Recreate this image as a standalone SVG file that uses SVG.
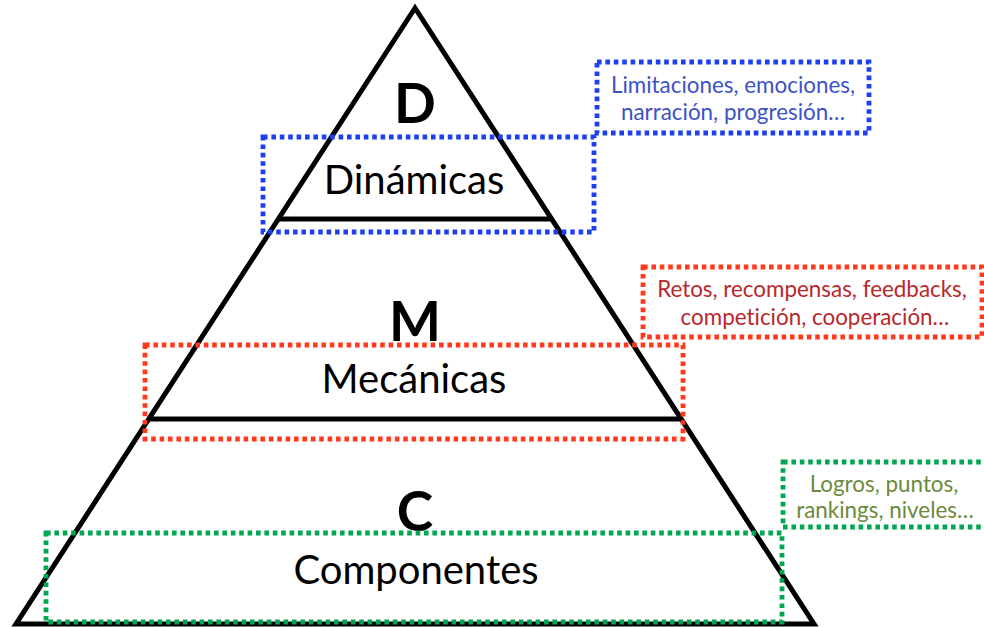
<svg xmlns="http://www.w3.org/2000/svg" width="984" height="627" viewBox="0 0 984 627">
  <style>
    text { font-variant-ligatures: none; }
    .edge { fill: none; stroke: #000; stroke-width: 5; stroke-linejoin: miter; }
    .sep { stroke: #000; stroke-width: 5; }
    .dot { fill: none; stroke-width: 4.8; stroke-dasharray: 4.6 3.8; }
    .blue { stroke: #1d40ee; }
    .red { stroke: #ff3a1c; }
    .green { stroke: #00a651; }
    .big { font-family: Lato, "Liberation Sans", sans-serif; font-weight: bold; font-size: 55px; fill: #000; text-anchor: middle; }
    .lbl { font-family: Lato, "Liberation Sans", sans-serif; font-size: 40px; fill: #000; text-anchor: middle; }
    .note { font-family: Lato, "Liberation Sans", sans-serif; font-size: 22.4px; text-anchor: middle; }
  </style>
  <rect width="984" height="627" fill="#fff"/>

  <g id="pyramid">
    <polygon class="edge" points="415,8 16,624 814,624" fill="#fff"/>
    <line class="sep" x1="279" y1="219" x2="551" y2="219"/>
    <line class="sep" x1="149" y1="419" x2="681" y2="419"/>
  </g>

  <g id="dinamicas">
    <text class="big" x="415" y="123">D</text>
    <text class="lbl" x="414" y="194">Dinámicas</text>
    <rect class="dot blue" x="263" y="137" width="331" height="95"/>
  </g>

  <g id="mecanicas">
    <text class="big" x="415" y="341">M</text>
    <text class="lbl" x="414" y="393">Mecánicas</text>
    <rect class="dot red" x="145" y="345" width="538" height="94"/>
  </g>

  <g id="componentes">
    <text class="big" x="415" y="531">C</text>
    <text class="lbl" x="416" y="584">Componentes</text>
    <rect class="dot green" x="46" y="533" width="736" height="89"/>
  </g>

  <g id="note-dinamicas">
    <rect class="dot blue" x="597" y="62" width="272" height="71"/>
    <text class="note" fill="#3d52c8" x="733" y="93">Limitaciones, emociones,</text>
    <text class="note" fill="#3d52c8" x="733" y="120">narración, progresión…</text>
  </g>

  <g id="note-mecanicas">
    <rect class="dot red" x="643" y="267" width="339" height="70"/>
    <text class="note" fill="#b8282c" x="812" y="297">Retos, recompensas, feedbacks,</text>
    <text class="note" fill="#b8282c" x="815" y="325">competición, cooperación…</text>
  </g>

  <g id="note-componentes">
    <rect class="dot green" x="783" y="462" width="205" height="65"/>
    <text class="note" fill="#6b8a3c" x="884" y="492">Logros, puntos,</text>
    <text class="note" fill="#6b8a3c" x="885" y="518">rankings, niveles…</text>
  </g>

  <g id="connectors"></g>
</svg>
